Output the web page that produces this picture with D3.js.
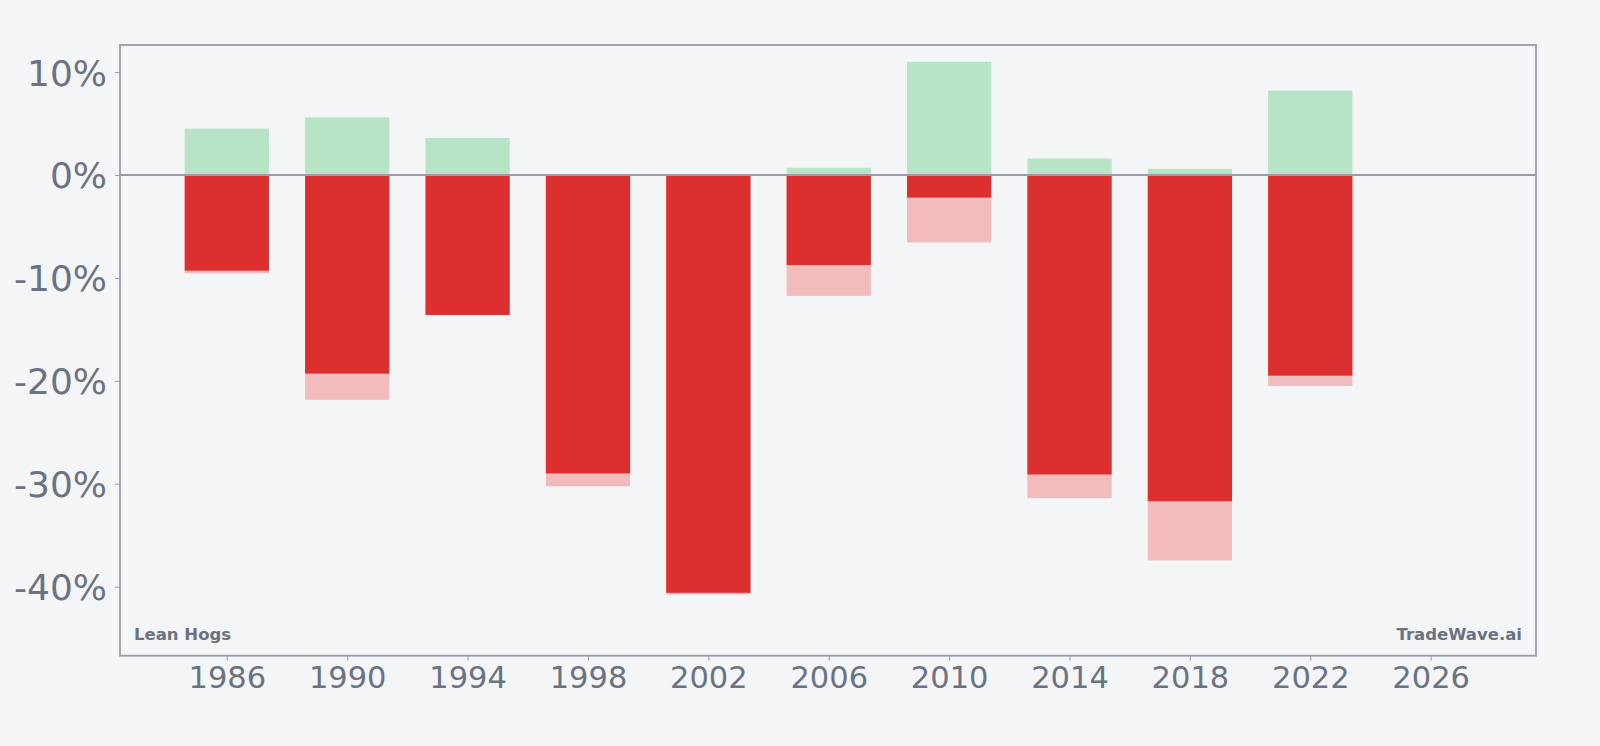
<!DOCTYPE html>
<html lang="en">
<head>
<meta charset="UTF-8">
<title>Lean Hogs</title>
<script src="https://d3js.org/d3.v7.min.js"></script>
<style>
  html, body { margin: 0; padding: 0; background: #f4f5f7; }
  body { font-family: "DejaVu Sans", sans-serif; }
  .tick text { fill: #6b7280; }
  .tick line { stroke: #9a9ca8; }
</style>
</head>
<body>
<svg width="1600" height="746"></svg>
<script>
  // year buckets and returns in %
  const years = [1986, 1990, 1994, 1998, 2002, 2006, 2010, 2014, 2018, 2022];
  const maxGain = [4.5, 5.6, 3.6, 0, 0, 0.7, 11.0, 1.6, 0.6, 8.2];
  const finalReturn = [-9.3, -19.3, -13.6, -29.0, -40.6, -8.75, -2.2, -29.1, -31.7, -19.5];
  const maxDrawdown = [-9.55, -21.85, -13.6, -30.25, -40.75, -11.75, -6.55, -31.4, -37.45, -20.5];
  const xTicks = [1986, 1990, 1994, 1998, 2002, 2006, 2010, 2014, 2018, 2022, 2026];
  const yTicks = [10, 0, -10, -20, -30, -40];

  const data = years.map((y, i) => ({
    year: y, gain: maxGain[i], ret: finalReturn[i], dd: maxDrawdown[i]
  }));

  const svg = d3.select("svg"),
    margin = { top: 45, right: 64, bottom: 90, left: 120 },
    width = +svg.attr("width"),
    height = +svg.attr("height");

  const x = d3.scaleLinear()
    .domain([1982.45, 2029.5])
    .range([margin.left, width - margin.right]);

  const y = d3.scaleLinear()
    .domain([12.63, -46.71])
    .range([margin.top, height - margin.bottom - 0.3]);

  const barW = 2.8; // years

  const bars = svg.append("g");

  bars.selectAll(".dd")
    .data(data)
    .enter().append("rect")
    .attr("x", d => x(d.year - barW / 2))
    .attr("width", d => x(d.year + barW / 2) - x(d.year - barW / 2))
    .attr("y", y(0))
    .attr("height", d => y(d.dd) - y(0))
    .attr("fill", "#f3bcbc");

  bars.selectAll(".ret")
    .data(data)
    .enter().append("rect")
    .attr("x", d => x(d.year - barW / 2))
    .attr("width", d => x(d.year + barW / 2) - x(d.year - barW / 2))
    .attr("y", y(0))
    .attr("height", d => y(d.ret) - y(0))
    .attr("fill", "#dc2f2f");

  bars.selectAll(".gain")
    .data(data)
    .enter().append("rect")
    .attr("x", d => x(d.year - barW / 2))
    .attr("width", d => x(d.year + barW / 2) - x(d.year - barW / 2))
    .attr("y", d => y(d.gain))
    .attr("height", d => y(0) - y(d.gain))
    .attr("fill", "#b7e4c7");

  // zero line
  svg.append("line")
    .attr("x1", x.range()[0]).attr("x2", x.range()[1])
    .attr("y1", y(0)).attr("y2", y(0))
    .attr("stroke", "#9a9ca8")
    .attr("stroke-width", 1.8);

  // frame
  svg.append("rect")
    .attr("x", x.range()[0])
    .attr("y", y.range()[0])
    .attr("width", x.range()[1] - x.range()[0])
    .attr("height", y.range()[1] - y.range()[0])
    .attr("fill", "none")
    .attr("stroke", "#9a9ca8")
    .attr("stroke-width", 1.8);

  const yAxis = svg.append("g")
    .attr("transform", `translate(${margin.left},0)`)
    .call(d3.axisLeft(y).tickValues(yTicks).tickSize(5).tickPadding(8).tickFormat(d => d + "%"));
  yAxis.select(".domain").remove();
  yAxis.selectAll("text")
    .style("font-size", "36px")
    .style("font-family", "DejaVu Sans")
    .attr("dy", "0.36em");

  const xAxis = svg.append("g")
    .attr("transform", `translate(0,${y.range()[1]})`)
    .call(d3.axisBottom(x).tickValues(xTicks).tickSize(5).tickPadding(6).tickFormat(d3.format("d")));
  xAxis.select(".domain").remove();
  xAxis.selectAll("text")
    .style("font-size", "30.5px")
    .style("font-family", "DejaVu Sans");

  svg.append("text")
    .attr("x", x.range()[0] + 14)
    .attr("y", y.range()[1] - 16)
    .attr("fill", "#6b7280")
    .style("font-size", "16.5px")
    .style("font-weight", "bold")
    .text("Lean Hogs");

  svg.append("text")
    .attr("x", x.range()[1] - 14)
    .attr("y", y.range()[1] - 16)
    .attr("text-anchor", "end")
    .attr("fill", "#6b7280")
    .style("font-size", "16.5px")
    .style("font-weight", "bold")
    .text("TradeWave.ai");
</script>
</body>
</html>
